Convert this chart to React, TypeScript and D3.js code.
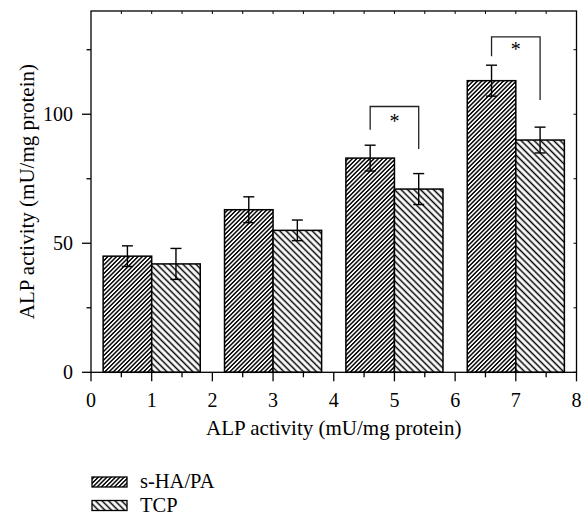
import React from 'react';
import * as d3 from 'd3';

// chart data
const groups = [1, 3, 5, 7];
const seriesNames = ['s-HA/PA', 'TCP'];
const shaValues = [45, 63, 83, 113];
const shaErrors = [4, 5, 5, 6];
const tcpValues = [42, 55, 71, 90];
const tcpErrors = [6, 4, 6, 5];
const xTicks = [0, 1, 2, 3, 4, 5, 6, 7, 8];
const yTicks = [0, 50, 100];
const yMinorTicks = [25, 75, 125];
// significance brackets: [left x, right x, left foot, top, right foot, star y]
const brackets = [
  { x1: 4.6, x2: 5.4, left: 94, top: 103, right: 86.5, star: 98.2 },
  { x1: 6.6, x2: 7.4, left: 122.5, top: 130, right: 105.5, star: 126.2 },
];
const axisTitle = 'ALP activity (mU/mg protein)';

const W = 586;
const H = 517;
const font = '"Liberation Serif", "Times New Roman", serif';

const App = () => {
  const x = d3.scaleLinear().domain([0, 8]).range([91, 576.5]);
  const y = d3.scaleLinear().domain([0, 140]).range([372.3, 11]);
  const barW = 0.8;
  const xMinor = d3.range(0.5, 8, 1);
  const xHalf = d3.range(0.5, 8, 0.5);

  const series = [
    { name: seriesNames[0], values: shaValues, errors: shaErrors, offset: -barW / 2, fill: 'url(#hatchSha)' },
    { name: seriesNames[1], values: tcpValues, errors: tcpErrors, offset: barW / 2, fill: 'url(#hatchTcp)' },
  ];

  const [x0, x1] = x.range();
  const [yb, yt] = y.range();

  return (
    <div style={{ position: 'absolute', left: 0, top: 0 }}>
      <svg width={W} height={H} style={{ display: 'block', background: '#fff' }} fontFamily={font}>
        <defs>
          <pattern id="hatchSha" patternUnits="userSpaceOnUse" width={3.05} height={10} patternTransform="rotate(45)">
            <rect width={3.05} height={10} fill="#fff" />
            <line x1={1.5} y1={0} x2={1.5} y2={10} stroke="#000" strokeWidth={1.45} />
          </pattern>
          <pattern id="hatchTcp" patternUnits="userSpaceOnUse" width={4.6} height={10} patternTransform="rotate(-45)">
            <rect width={4.6} height={10} fill="#fff" />
            <line x1={2.3} y1={0} x2={2.3} y2={10} stroke="#000" strokeWidth={1.5} />
          </pattern>
        </defs>

        {/* bars */}
        {series.map(s =>
          groups.map((g, i) => {
            const cx = g + s.offset;
            return (
              <rect
                key={s.name + i}
                x={x(cx - barW / 2)}
                y={y(s.values[i])}
                width={x(cx + barW / 2) - x(cx - barW / 2)}
                height={y(0) - y(s.values[i])}
                fill={s.fill}
                stroke="#000"
                strokeWidth={1.5}
              />
            );
          })
        )}

        {/* error bars */}
        {series.map(s =>
          groups.map((g, i) => {
            const cx = x(g + s.offset);
            const hi = y(s.values[i] + s.errors[i]);
            const lo = y(s.values[i] - s.errors[i]);
            return (
              <g key={'e' + s.name + i} stroke="#000" strokeWidth={1.4}>
                <line x1={cx} x2={cx} y1={hi} y2={lo} />
                <line x1={cx - 5.5} x2={cx + 5.5} y1={hi} y2={hi} />
                <line x1={cx - 5.5} x2={cx + 5.5} y1={lo} y2={lo} />
              </g>
            );
          })
        )}

        {/* significance brackets */}
        {brackets.map((b, i) => (
          <g key={'b' + i}>
            <path
              d={`M${x(b.x1)},${y(b.left)}V${y(b.top)}H${x(b.x2)}V${y(b.right)}`}
              fill="none"
              stroke="#222"
              strokeWidth={1.3}
            />
            <text x={x((b.x1 + b.x2) / 2)} y={y(b.star) + 9} textAnchor="middle" fontSize={20}>*</text>
          </g>
        ))}

        {/* frame */}
        <rect x={x0} y={yt} width={x1 - x0} height={yb - yt} fill="none" stroke="#000" strokeWidth={1.3} />

        {/* bottom axis */}
        {xTicks.map(t => (
          <g key={'xt' + t}>
            <line x1={x(t)} x2={x(t)} y1={yb} y2={yb + 9} stroke="#000" strokeWidth={1.3} />
            <text x={x(t)} y={407} textAnchor="middle" fontSize={20}>{t}</text>
          </g>
        ))}
        {xMinor.map(t => (
          <line key={'xm' + t} x1={x(t)} x2={x(t)} y1={yb} y2={yb + 5} stroke="#000" strokeWidth={1.3} />
        ))}
        {/* top mirror ticks */}
        {xHalf.map(t => (
          <line key={'xtop' + t} x1={x(t)} x2={x(t)} y1={yt} y2={yt + 3} stroke="#000" strokeWidth={1} />
        ))}

        {/* left axis */}
        {yTicks.map(t => (
          <g key={'yt' + t}>
            <line x1={x0 - 9} x2={x0} y1={y(t)} y2={y(t)} stroke="#000" strokeWidth={1.3} />
            <text x={73} y={y(t) + 7} textAnchor="end" fontSize={20}>{t}</text>
          </g>
        ))}
        {yMinorTicks.map(t => (
          <line key={'ym' + t} x1={x0 - 4.5} x2={x0} y1={y(t)} y2={y(t)} stroke="#000" strokeWidth={1.3} />
        ))}
        {/* right mirror ticks */}
        {[...yTicks, ...yMinorTicks].map(t => (
          <line key={'yr' + t} x1={x1 - 3} x2={x1} y1={y(t)} y2={y(t)} stroke="#000" strokeWidth={1} />
        ))}

        {/* axis titles */}
        <text x={(x0 + x1) / 2} y={435} textAnchor="middle" fontSize={21}>{axisTitle}</text>
        <text
          transform={`translate(34,${(yb + yt) / 2}) rotate(-90)`}
          textAnchor="middle"
          fontSize={21}
        >
          {axisTitle}
        </text>

        {/* legend */}
        {series.map((s, i) => (
          <g key={'lg' + i} transform={`translate(92,${477 + i * 23.5})`}>
            <rect width={35} height={10} fill={s.fill} stroke="#000" strokeWidth={1.3} />
            <text x={48} y={11} fontSize={20.5}>{s.name}</text>
          </g>
        ))}
      </svg>
    </div>
  );
};

export default App;
